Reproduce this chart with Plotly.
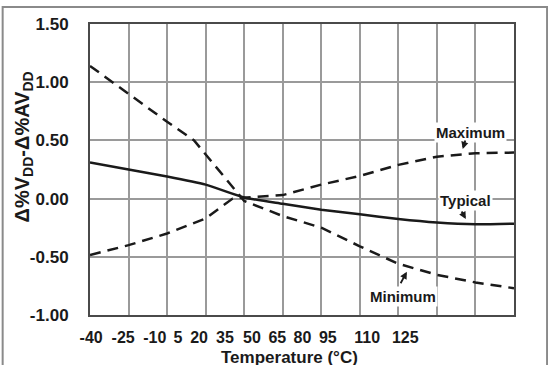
import plotly.graph_objects as go

# Grid columns (the chart has 11 equal columns; labels are not aligned to gridlines)
grid_pos = list(range(12))
tick_labels = ["-40", "-25", "-10", "5", "20", "35", "50", "65", "80", "95", "110", "125"]
tick_label_pos = [0.03, 0.86, 1.68, 2.28, 2.83, 3.50, 4.20, 4.86, 5.51, 6.17, 7.19, 8.18]

typical_x = [0, 1, 2, 3, 4, 5, 6, 7, 8, 9, 10, 11]
typical_y = [0.31, 0.25, 0.19, 0.12, 0.01, -0.045, -0.095, -0.135, -0.175, -0.205, -0.22, -0.215]

maximum_x = [0, 1, 2, 3, 3.7, 5, 6, 7, 8, 9, 10, 11]
maximum_y = [-0.485, -0.40, -0.30, -0.17, 0.0, 0.03, 0.12, 0.195, 0.29, 0.36, 0.39, 0.395]

minimum_x = [0, 1, 2, 2.7, 3, 4, 5, 6, 7, 8, 9, 10, 11]
minimum_y = [1.14, 0.90, 0.66, 0.50, 0.38, -0.02, -0.15, -0.25, -0.41, -0.56, -0.655, -0.72, -0.77]

y_ticks = [-1.0, -0.5, 0.0, 0.5, 1.0, 1.5]
y_tick_text = ["-1.00", "-0.50", "0.00", "0.50", "1.00", "1.50"]

FONT = "Arial, Liberation Sans, sans-serif"
LINE = "#1a1a1a"

fig = go.Figure()
fig.add_trace(go.Scatter(x=typical_x, y=typical_y, mode="lines",
                         line=dict(color=LINE, width=2.5, shape="spline", smoothing=0.6),
                         showlegend=False, hoverinfo="skip"))
fig.add_trace(go.Scatter(x=maximum_x, y=maximum_y, mode="lines",
                         line=dict(color=LINE, width=2.5, dash="11px,7px"),
                         showlegend=False, hoverinfo="skip"))
fig.add_trace(go.Scatter(x=minimum_x, y=minimum_y, mode="lines",
                         line=dict(color=LINE, width=2.5, dash="11px,7px"),
                         showlegend=False, hoverinfo="skip"))

txt_font = dict(family=FONT, size=15, color="#1a1a1a", weight="bold")
for label, x, y in [("Maximum", 9.88, 0.57), ("Typical", 9.73, -0.012), ("Minimum", 8.12, -0.837)]:
    fig.add_annotation(x=x, y=y, text=label, showarrow=False, font=txt_font,
                       bgcolor="white", borderpad=1)
for x, y, ax, ay in [(9.67, 0.426, 3, -10), (9.75, -0.175, -5, -9), (8.22, -0.628, -7, 13)]:
    fig.add_annotation(x=x, y=y, text="", showarrow=True, ax=ax, ay=ay,
                       arrowhead=2, arrowsize=0.8, arrowwidth=1.8, arrowcolor="#1a1a1a")

# axis titles as annotations
fig.add_annotation(xref="paper", yref="paper", x=-0.158, y=0.576,
                   text="Δ%V<sub>DD</sub>-Δ%AV<sub>DD</sub>", textangle=-90,
                   showarrow=False, xanchor="center", yanchor="middle",
                   font=dict(family=FONT, size=20, color="#1a1a1a", weight="bold"))
fig.add_annotation(xref="paper", yref="paper", x=0.47, y=-0.145,
                   text="Temperature (°C)", showarrow=False,
                   xanchor="center", yanchor="middle",
                   font=dict(family=FONT, size=17, color="#1a1a1a", weight="bold"))

# outer frame
fig.add_shape(type="rect", xref="paper", yref="paper",
              x0=-0.206, x1=1.078, y0=-0.35, y1=1.058,
              line=dict(color="#8a8a8a", width=2), layer="below")

fig.update_layout(
    width=548, height=365,
    margin=dict(l=89.5, r=34, t=24, b=50),
    paper_bgcolor="white", plot_bgcolor="white",
    font=dict(family=FONT, color="#1a1a1a"),
    xaxis=dict(range=[0, 11], tickmode="array", tickvals=tick_label_pos, ticktext=tick_labels,
               showgrid=False, zeroline=False, ticks="", ticklabelstandoff=7, automargin=False,
               tickfont=dict(family=FONT, size=16, weight="bold", color="#1a1a1a"),
               minor=dict(tickmode="array", tickvals=grid_pos, showgrid=True,
                          gridcolor="#9a9a9a", gridwidth=2, ticks=""),
               showline=True, linecolor="#4a4a4a", linewidth=2, mirror=True),
    yaxis=dict(range=[-1.0, 1.5], tickmode="array", tickvals=y_ticks, ticktext=y_tick_text,
               showgrid=True, gridcolor="#9a9a9a", gridwidth=2, zeroline=False, ticks="",
               ticklabelstandoff=16, automargin=False,
               tickfont=dict(family=FONT, size=17, weight="bold", color="#1a1a1a"),
               showline=True, linecolor="#4a4a4a", linewidth=2, mirror=True),
)

fig.write_html("out.html")
